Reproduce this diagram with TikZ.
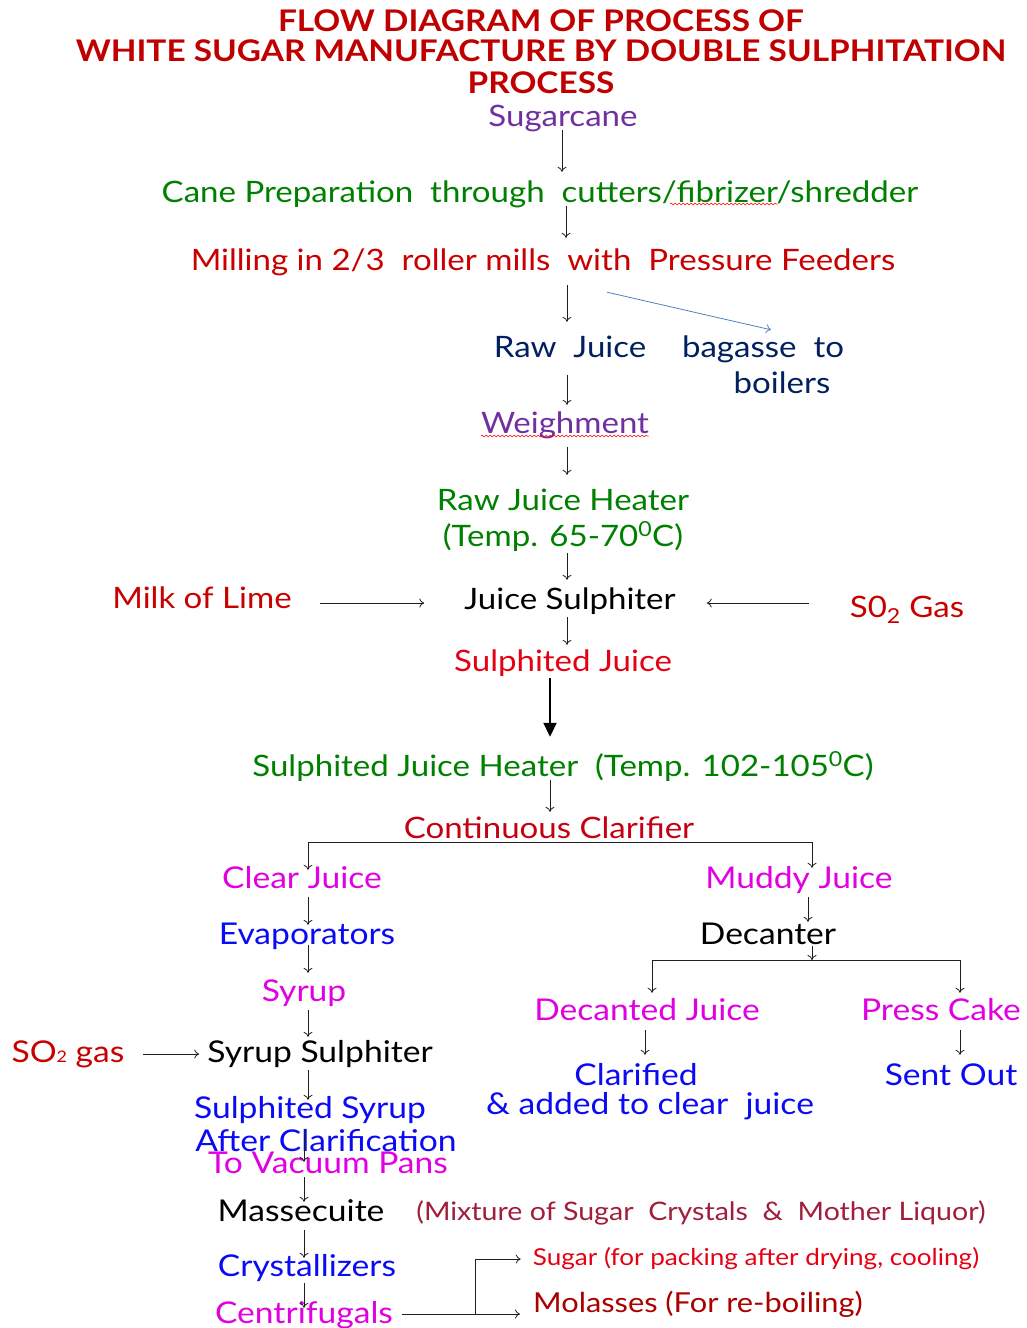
\documentclass[tikz,border=0pt]{standalone}
\usepackage{fontspec}
\setmainfont{Lato}[FakeStretch=1.12]
\usetikzlibrary{arrows.meta,decorations.pathmorphing}

\definecolor{ttlred}{RGB}{192,0,0}
\definecolor{cpurple}{RGB}{112,48,160}
\definecolor{cgreen}{RGB}{0,128,0}
\definecolor{cred}{RGB}{200,0,0}
\definecolor{cbright}{RGB}{230,0,20}
\definecolor{cnavy}{RGB}{0,32,96}
\definecolor{cmag}{RGB}{225,0,225}
\definecolor{cblue}{RGB}{10,10,245}
\definecolor{cmaroon}{RGB}{160,30,60}
\definecolor{csteel}{RGB}{79,129,189}
\definecolor{cdark}{RGB}{30,30,30}

\begin{document}
\begin{tikzpicture}[x=1pt,y=-1pt,
  lbl/.style={inner sep=1pt, text height=23pt, text depth=3pt,
              font=\fontsize{29.5}{32}\selectfont},
  low/.style={font=\fontsize{30}{32}\selectfont},
  ttl/.style={inner sep=0pt, text=ttlred,
              font=\fontsize{29.8}{32}\selectfont\bfseries},
  arr/.style={draw=cdark, line width=0.8pt, -{To[length=5pt,width=9pt]}},
  plainline/.style={draw=cdark, line width=0.8pt},
  bigarr/.style={draw=black, line width=2pt, -{Triangle[length=14pt,width=13pt]}},
  bluearr/.style={draw=csteel, line width=0.8pt, -{To[length=5pt,width=9pt]}},
  squiggle/.style={draw=red, line width=0.5pt,
                   decorate, decoration={snake, amplitude=0.9pt, segment length=4pt}}
]
\useasboundingbox (0,0) rectangle (1026,1328);

% title
\node[ttl] (t1) at (541,21) {FLOW DIAGRAM OF PROCESS OF};
\node[ttl] (t2) at (541,51) {WHITE SUGAR MANUFACTURE BY DOUBLE SULPHITATION};
\node[ttl] (t3) at (541,83) {PROCESS};

% main column
\node[lbl, text=cpurple] (cane) at (563,116) {Sugarcane};
\node[lbl, text=cgreen] (prep) at (540,192) {Cane Preparation\ \ through\ \ cutters/fibrizer/shredder};
\node[lbl, text=cred] (mill) at (543,260) {Milling in 2/3\ \ roller mills\ \ with\ \ Pressure Feeders};
\node[lbl, text=cnavy] (raw) at (570,347) {Raw\ \ Juice};
\node[lbl, text=cnavy] (bag1) at (763,347) {bagasse\ \ to};
\node[lbl, text=cnavy] (bag2) at (782,383) {boilers};
\node[lbl, text=cpurple] (weigh) at (565,423) {Weighment};
\node[lbl, text=cgreen] (rjh1) at (563,500) {Raw Juice Heater};
\node[lbl, text=cgreen] (rjh2) at (563,536) {(Temp. 65-70\textsuperscript{0}C)};
\node[lbl, text=cred] (lime) at (202,598) {Milk of Lime};
\node[lbl, text=black] (jsul) at (570,599) {Juice Sulphiter};
\node[lbl, text=cred] (so2a) at (907,607) {S0\textsubscript{2} Gas};
\node[lbl, text=cbright] (sjuice) at (563,661) {Sulphited Juice};
\node[lbl, text=cgreen] (sjh) at (563,766) {Sulphited Juice Heater\ \ (Temp. 102-105\textsuperscript{0}C)};
\node[lbl, text=cbright!85!black] (clar) at (549,828) {Continuous Clarifier};

% left branch
\node[lbl, low, text=cmag] (clear) at (302,878) {Clear Juice};
\node[lbl, low, text=cblue] (evap) at (307,934) {Evaporators};
\node[lbl, low, text=cmag] (syrup) at (304,991) {Syrup};
\node[lbl, low, text=cred] (so2b) at (68,1052) {SO{\fontsize{16}{16}\selectfont 2} gas};
\node[lbl, low, text=black] (ssul) at (320,1052) {Syrup Sulphiter};
\node[lbl, low, text=cblue] (ssyr) at (310,1108) {Sulphited Syrup};
\node[lbl, low, text=cblue] (after) at (326,1141) {After Clarification};
\node[lbl, low, text=cmag] (vac) at (328,1163) {To Vacuum Pans};
\node[lbl, low, text=black] (masse) at (301,1211) {Massecuite};
\node[lbl, text=cmaroon, font=\fontsize{25.5}{28}\selectfont] (mix) at (701,1210) {(Mixture of Sugar\ \ Crystals\ \ \&\ \ Mother Liquor)};
\node[lbl, low, text=cblue] (cryst) at (307,1266) {Crystallizers};
\node[lbl, low, text=cmag] (centri) at (304,1313) {Centrifugals};
\node[lbl, text=cbright, font=\fontsize{23.3}{26}\selectfont] (sugar) at (756,1255) {Sugar\ (for packing after drying, cooling)};
\node[lbl, text=cred!85!black, font=\fontsize{27.5}{30}\selectfont] (mol) at (698,1302) {Molasses (For re-boiling)};

% right branch
\node[lbl, low, text=cmag] (muddy) at (799,878) {Muddy Juice};
\node[lbl, low, text=black] (dec) at (768,934) {Decanter};
\node[lbl, low, text=cmag] (decj) at (647,1010) {Decanted Juice};
\node[lbl, low, text=cmag] (press) at (941,1010) {Press Cake};
\node[lbl, low, text=cblue] (clf1) at (636,1075) {Clarified};
\node[lbl, low, text=cblue] (clf2) at (650,1104) {\&\ added\ to\ clear\ \ juice};
\node[lbl, low, text=cblue] (sent) at (951,1075) {Sent Out};

% spelling marks
\draw[squiggle] (670,204) -- (778,204);
\draw[squiggle] (481,436) -- (649,436);

% column positions of the vertical arrows
\coordinate (x1) at (562,0);
\coordinate (x2) at (566,0);
\coordinate (x3) at (567,0);
\coordinate (x4) at (550,0);
\coordinate (xl) at (308,0);
\coordinate (xl2) at (304,0);
\coordinate (xr) at (812,0);
\coordinate (xr2) at (808,0);
\coordinate (xd1) at (652,0);
\coordinate (xd2) at (645,0);
\coordinate (xp) at (960,0);

% main column arrows
\draw[arr, shorten >=6pt] (cane.south -| x1) -- (prep.north -| x1);
\draw[arr, shorten >=8pt] (prep.south -| x2) -- (mill.north -| x2);
\draw[arr, shorten <=11pt, shorten >=11pt] (mill.south -| x3) -- (raw.north -| x3);
\draw[bluearr] ([shift={(64,18)}]mill.south) -- ([shift={(8,-3)}]bag1.north);
\draw[arr, shorten <=14pt, shorten >=4pt] (raw.south -| x3) -- (weigh.north -| x3);
\draw[arr, shorten <=10pt, shorten >=11pt] (weigh.south -| x3) -- (rjh1.north -| x3);
\draw[arr, shorten <=3pt, shorten >=5pt] (rjh2.south -| x3) -- (jsul.north -| x3);
\draw[arr, shorten <=4pt, shorten >=2pt] (jsul.south -| x3) -- (sjuice.north -| x3);
\draw[bigarr, shorten <=3pt, shorten >=15pt] (sjuice.south -| x4) -- (sjh.north -| x4);
\draw[arr, shorten >=2pt] (sjh.south -| x4) -- (clar.north -| x4);

% side feeds into the juice sulphiter
\coordinate (yfeed) at (0,603);
\draw[arr, shorten <=27pt, shorten >=39pt] (lime.east |- yfeed) -- (jsul.west |- yfeed);
\draw[arr, shorten <=40pt, shorten >=30pt] (so2a.west |- yfeed) -- (jsul.east |- yfeed);

% clarifier split
\draw[arr, shorten >=-6pt] (clar.south) -| (clear.north -| xl);
\draw[arr, shorten >=-4pt] (clar.south) -| (muddy.north -| xr);

% left branch arrows
\draw[arr, shorten <=5pt, shorten >=-5pt] (clear.south -| xl) -- (evap.north -| xl);
\draw[arr, shorten <=-3pt, shorten >=4pt] (evap.south -| xl) -- (syrup.north -| xl);
\draw[arr, shorten <=5pt, shorten >=1pt] (syrup.south -| xl) -- (ssul.north -| xl);
\draw[arr, shorten <=17pt, shorten >=7pt] ([yshift=-2pt]so2b.east) -- ([yshift=-2pt]ssul.west);
\draw[arr, shorten <=4pt, shorten >=-6pt] (ssul.south -| xl) -- (ssyr.north -| xl);
\draw[arr, shorten <=8pt, shorten >=-13pt] (ssyr.south -| xl2) -- (vac.north -| xl2);
\draw[arr, shorten <=0pt, shorten >=-5pt] (vac.south -| xl2) -- (masse.north -| xl2);
\draw[arr, shorten <=5pt, shorten >=-6pt] (masse.south -| xl2) -- (cryst.north -| xl2);
\draw[arr, shorten <=3pt, shorten >=-9pt] (cryst.south -| xl2) -- (centri.north -| xl2);

% centrifugal outputs
\coordinate (jn) at (475,1314);
\coordinate (jt) at (475,1259);
\draw[plainline, shorten <=8pt] (centri.east |- jn) -- (jn);
\draw[arr, shorten >=12pt] (jn) -- (jn -| mol.west);
\draw[arr, shorten >=11pt] (jn) -- (jt) -- (jt -| sugar.west);

% right branch arrows
\coordinate (jd) at (812,960);
\draw[arr, shorten <=5pt, shorten >=-2pt] (muddy.south -| xr2) -- (dec.north -| xr2);
\draw[arr, shorten <=-2pt] (dec.south -| xr) -- (jd);
\draw[arr, shorten >=3pt] (jd) -| (decj.north -| xd1);
\draw[arr, shorten >=3pt] (jd) -| (press.north -| xp);
\draw[arr, shorten <=6pt, shorten >=6pt] (decj.south -| xd2) -- (clf1.north -| xd2);
\draw[arr, shorten <=6pt, shorten >=6pt] (press.south -| xp) -- (sent.north -| xp);
\end{tikzpicture}
\end{document}
